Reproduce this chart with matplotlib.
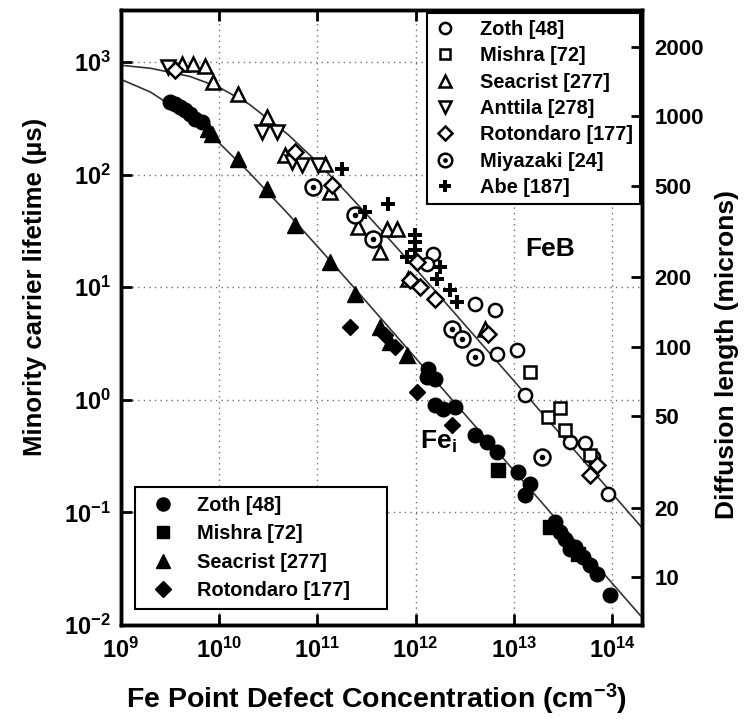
import matplotlib
matplotlib.use('Agg')
import matplotlib.pyplot as plt
from matplotlib.ticker import NullLocator, FixedLocator, FixedFormatter
from matplotlib.legend_handler import HandlerTuple

plt.rcParams['font.family'] = ['Liberation Sans', 'DejaVu Sans']
plt.rcParams['font.weight'] = 'bold'
plt.rcParams['axes.labelweight'] = 'bold'
plt.rcParams['mathtext.default'] = 'regular'
plt.rcParams['axes.unicode_minus'] = False

# ---- FeB data (open symbols) ----
feb_zoth_N = [1.50e12, 1.31e12, 4.03e12, 6.44e12, 6.75e12, 1.08e13, 1.30e13, 3.73e13, 5.31e13, 6.41e13, 9.1e13]
feb_zoth_tau = [19.8, 16.1, 7.1, 6.3, 2.56, 2.78, 1.11, 0.42, 0.41, 0.31, 0.146]

feb_mishra_N = [1.46e13, 2.23e13, 2.95e13, 3.32e13, 5.97e13]
feb_mishra_tau = [1.77, 0.71, 0.85, 0.54, 0.325]

feb_seacrist_N = [4.18e9, 5.4e9, 7.2e9, 8.6e9, 1.55e10, 3.07e10, 4.68e10, 1.19e11, 1.34e11, 2.59e11,
                  4.34e11, 5.12e11, 6.47e11, 8.37e11, 5.07e12]
feb_seacrist_tau = [964, 964, 925, 667, 522, 326, 150, 125, 70, 34.4,
                    20.6, 33, 33, 11.9, 4.27]

feb_anttila_N = [3.0e9, 2.73e10, 3.88e10, 5.5e10, 6.97e10, 1.01e11]
feb_anttila_tau = [906, 240, 240, 130, 122, 122]

feb_rotondaro_N = [3.55e9, 5.9e10, 1.41e11, 1.03e12, 8.77e11, 1.11e12, 1.58e12, 5.46e12, 7.03e13, 5.97e13]
feb_rotondaro_tau = [853, 159, 81, 16.8, 11.6, 10.1, 7.9, 3.86, 0.265, 0.216]

feb_miyazaki_N = [9.0e10, 2.42e11, 3.68e11, 2.35e12, 2.97e12, 4.03e12, 1.94e13]
feb_miyazaki_tau = [78, 44, 26.9, 4.27, 3.48, 2.41, 0.31]

feb_abe_N = [1.78e11, 5.24e11, 3.05e11, 9.86e11, 9.86e11, 9.86e11, 8.17e11, 1.65e12, 1.77e12, 2.24e12, 2.64e12]
feb_abe_tau = [112, 55, 47, 29.2, 25.3, 21.5, 18.6, 11.9, 15.2, 9.5, 7.4]

# ---- Fei data (filled symbols) ----
fei_zoth_N = [3.16e9, 3.55e9, 4.0e9, 4.5e9, 5.0e9, 5.7e9, 6.7e9, 1.34e12, 1.31e12, 1.58e12, 1.58e12,
              1.90e12, 2.52e12, 4.03e12, 5.33e12, 6.75e12, 1.10e13, 1.46e13, 1.30e13, 2.63e13, 2.95e13,
              3.32e13, 3.73e13, 4.2e13, 5.07e13, 5.97e13, 7.03e13, 9.5e13]
fei_zoth_tau = [443, 425, 400, 376, 347, 313, 294, 1.88, 1.60, 1.54, 0.90,
                0.83, 0.87, 0.49, 0.42, 0.345, 0.23, 0.18, 0.143, 0.083, 0.067,
                0.058, 0.0475, 0.0495, 0.040, 0.034, 0.0285, 0.0185]

fei_mishra_N = [6.9e12, 2.34e13, 4.5e13]
fei_mishra_tau = [0.239, 0.0745, 0.043]

fei_seacrist_N = [7.7e9, 8.4e9, 1.55e10, 3.07e10, 5.9e10, 1.34e11, 2.42e11, 4.34e11, 5.49e11, 8.17e11]
fei_seacrist_tau = [255, 230, 138, 75, 35.8, 16.8, 8.7, 4.45, 3.27, 2.51]

fei_rotondaro_N = [2.14e11, 4.88e11, 6.17e11, 1.03e12, 2.35e12]
fei_rotondaro_tau = [4.45, 3.78, 2.96, 1.18, 0.60]

# ---- fit curves ----
fit_N = [1e9, 2e9, 5e9, 1e10, 2e10, 5e10, 1e11, 2e11, 5e11, 1e12, 2e12, 5e12,
         1e13, 2e13, 5e13, 1e14, 2.02e14]
feb_fit = [937, 881, 747, 597, 425, 228, 129, 68.9, 28.8, 14.6, 7.35, 2.95,
           1.48, 0.739, 0.296, 0.148, 0.0732]
fei_fit = [702, 541, 321, 191, 105.5, 45.1, 23.1, 11.7, 4.70, 2.35, 1.18, 0.472,
           0.236, 0.118, 0.0472, 0.0236, 0.0117]

# right axis ticks (diffusion length, microns)
diff_ticks = [10, 20, 50, 100, 200, 500, 1000, 2000]

fig = plt.figure(figsize=(7.45, 7.19), dpi=100)
ax = fig.add_axes([0.1624, 0.1307, 0.6993, 0.8553])
ax.set_xscale('log')
ax.set_yscale('log')

# fit lines
ax.plot(fit_N, feb_fit, color='0.2', lw=1.2, zorder=2)
ax.plot(fit_N, fei_fit, color='0.2', lw=1.2, zorder=2)

# FeB - open symbols
mew = 1.8
h_zoth = ax.plot(feb_zoth_N, feb_zoth_tau, 'o', ms=9.5, mfc='white', mec='black', mew=mew, zorder=3)[0]
h_mishra = ax.plot(feb_mishra_N, feb_mishra_tau, 's', ms=9, mfc='white', mec='black', mew=mew, zorder=3)[0]
h_seac = ax.plot(feb_seacrist_N, feb_seacrist_tau, '^', ms=10.5, mfc='white', mec='black', mew=mew, zorder=3)[0]
h_antt = ax.plot(feb_anttila_N, feb_anttila_tau, 'v', ms=10.5, mfc='white', mec='black', mew=mew, zorder=3)[0]
h_roto = ax.plot(feb_rotondaro_N, feb_rotondaro_tau, 'D', ms=8, mfc='white', mec='black', mew=mew, zorder=3)[0]
h_miya1 = ax.plot(feb_miyazaki_N, feb_miyazaki_tau, 'o', ms=11.5, mfc='white', mec='black', mew=mew, zorder=3)[0]
h_miya2 = ax.plot(feb_miyazaki_N, feb_miyazaki_tau, 'o', ms=4, mfc='black', mec='black', mew=0, zorder=4)[0]
h_abe = ax.plot(feb_abe_N, feb_abe_tau, 'P', ms=10, mfc='black', mec='black', mew=0, zorder=3)[0]

# Fei - filled symbols
f_zoth = ax.plot(fei_zoth_N, fei_zoth_tau, 'o', ms=10.5, color='black', zorder=3)[0]
f_mishra = ax.plot(fei_mishra_N, fei_mishra_tau, 's', ms=9.5, color='black', zorder=3)[0]
f_seac = ax.plot(fei_seacrist_N, fei_seacrist_tau, '^', ms=11, color='black', zorder=3)[0]
f_roto = ax.plot(fei_rotondaro_N, fei_rotondaro_tau, 'D', ms=8.5, color='black', zorder=3)[0]

ax.set_xlim(1e9, 2.02e14)
ax.set_ylim(1e-2, 2897)
ax.xaxis.set_minor_locator(NullLocator())
ax.yaxis.set_minor_locator(NullLocator())
ax.tick_params(which='major', direction='in', length=8, width=2, top=True, right=False,
               labelsize=17, pad=7)
ax.tick_params(axis='x', pad=9)
ax.grid(True, which='major', linestyle=(0, (1, 3)), color='0.45', linewidth=1)
for sp in ax.spines.values():
    sp.set_linewidth(2.5)

ax.set_xlabel('Fe Point Defect Concentration (cm$^{-3}$)', fontsize=20.5)
ax.xaxis.set_label_coords(0.49, -0.093)
ax.set_ylabel('Minority carrier lifetime (\u00b5s)', fontsize=18.5)
ax.yaxis.set_label_coords(-0.142, 0.55)

# right axis: diffusion length
ax2 = ax.twinx()
ax2.set_yscale('log')
ax2.set_ylim(6.19, 2897)
ax2.yaxis.set_major_locator(FixedLocator(diff_ticks))
ax2.yaxis.set_major_formatter(FixedFormatter([str(t) for t in diff_ticks]))
ax2.yaxis.set_minor_locator(NullLocator())
ax2.tick_params(which='major', direction='in', length=8, width=2, labelsize=16, pad=9)
ax2.set_ylabel('Diffusion length (microns)', fontsize=19)
ax2.yaxis.set_label_coords(1.14, 0.44)
for sp in ax2.spines.values():
    sp.set_linewidth(2.5)

# labels for the two curves
ax.text(1.3e13, 22, 'FeB', fontsize=19, va='center', ha='left')
ax.text(1.1e12, 0.42, 'Fe$_i$', fontsize=19, va='center', ha='left')

# legends
leg1 = ax.legend([h_zoth, h_mishra, h_seac, h_antt, h_roto, (h_miya1, h_miya2), h_abe],
                 ['Zoth [48]', 'Mishra [72]', 'Seacrist [277]', 'Anttila [278]',
                  'Rotondaro [177]', 'Miyazaki [24]', 'Abe [187]'],
                 handler_map={tuple: HandlerTuple(ndivide=1)},
                 loc='upper left', bbox_to_anchor=(0.587, 0.695, 0.409, 0.3), mode='expand',
                 borderaxespad=0, fontsize=14.4, markerscale=0.85, handlelength=1.15,
                 handletextpad=1.2, borderpad=0.33, labelspacing=0.37,
                 fancybox=False, edgecolor='black', framealpha=1)
leg1.get_frame().set_linewidth(1.5)
ax.add_artist(leg1)

leg2 = ax.legend([f_zoth, f_mishra, f_seac, f_roto],
                 ['Zoth [48]', 'Mishra [72]', 'Seacrist [277]', 'Rotondaro [177]'],
                 loc='upper left', bbox_to_anchor=(0.027, 0.024, 0.484, 0.2), mode='expand',
                 borderaxespad=0, fontsize=14.4, markerscale=0.9, handlelength=1.9,
                 handletextpad=0.75, borderpad=0.45, labelspacing=0.46,
                 fancybox=False, edgecolor='black', framealpha=1)
leg2.get_frame().set_linewidth(1.5)

fig.savefig('out.png', dpi=100)
